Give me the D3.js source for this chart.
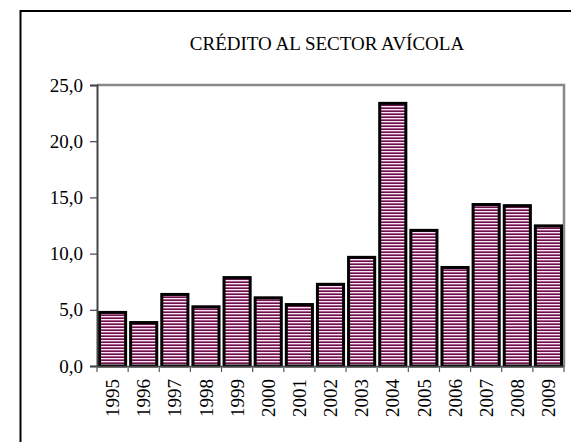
<!DOCTYPE html>
<html>
<head>
<meta charset="utf-8">
<script src="https://cdn.jsdelivr.net/npm/d3@7"></script>
<style>
  html, body { margin: 0; padding: 0; background: #fff; }
  svg { display: block; }
</style>
</head>
<body>
<svg id="chart" width="571" height="442"></svg>
<script>
const title = "CRÉDITO AL SECTOR AVÍCOLA";
const years = ["1995","1996","1997","1998","1999","2000","2001","2002","2003","2004","2005","2006","2007","2008","2009"];
const values = [4.9, 4.0, 6.5, 5.4, 8.0, 6.2, 5.6, 7.4, 9.8, 23.5, 12.2, 8.9, 14.5, 14.4, 12.6];
const yTicks = [0, 5, 10, 15, 20, 25];

const svg = d3.select("#chart");
const m = { left: 97, right: 564, top: 85, bottom: 366 };

// outer frame (extends beyond the visible window on right/bottom)
svg.append("rect")
  .attr("x", 20.5).attr("y", 11).attr("width", 700).attr("height", 600)
  .attr("fill", "#fff").attr("stroke", "#000").attr("stroke-width", 2);

// striped fill pattern
const defs = svg.append("defs");
const pat = defs.append("pattern")
  .attr("id", "stripes").attr("patternUnits", "userSpaceOnUse")
  .attr("width", 4).attr("height", 3);
pat.append("rect").attr("x", 0).attr("y", 0).attr("width", 4).attr("height", 1).attr("fill", "#6a1249");
pat.append("rect").attr("x", 0).attr("y", 1).attr("width", 4).attr("height", 1).attr("fill", "#f6e8f1");
pat.append("rect").attr("x", 0).attr("y", 2).attr("width", 4).attr("height", 1).attr("fill", "#a85a8c");

const x = d3.scaleBand().domain(years).range([m.left, m.right]).paddingInner(0).paddingOuter(0);
const y = d3.scaleLinear().domain([0, 25]).range([m.bottom, m.top]);

const serif = "'Liberation Serif', 'Times New Roman', serif";

// title
svg.append("text")
  .attr("x", 327).attr("y", 50)
  .attr("text-anchor", "middle")
  .attr("font-family", serif)
  .attr("font-size", 19)
  .attr("fill", "#000")
  .text(title);

// plot border top/right (gray)
svg.append("path")
  .attr("d", `M${m.left},${m.top}H${m.right}V${m.bottom}`)
  .attr("fill", "none").attr("stroke", "#888").attr("stroke-width", 2.5);

// bars
const sw = 3, gap = 2;
svg.append("g").selectAll("rect")
  .data(values)
  .join("rect")
  .attr("x", (d, i) => x(years[i]) + sw / 2 + (i === 0 ? 1 : gap / 2))
  .attr("width", () => x.bandwidth() - sw - gap)
  .attr("y", d => y(d) + sw / 2)
  .attr("height", d => y(0) - y(d) - sw / 2)
  .attr("fill", "url(#stripes)")
  .attr("stroke", "#000")
  .attr("stroke-width", sw);

// y axis
const yAxis = d3.axisLeft(y).tickValues(yTicks).tickSize(7).tickPadding(7)
  .tickFormat(d => d3.format(".1f")(d).replace(".", ","));
const gy = svg.append("g").attr("transform", `translate(${m.left},0)`).call(yAxis);
gy.select(".domain").attr("stroke", "#444").attr("stroke-width", 2);
gy.selectAll(".tick line").attr("stroke", "#444").attr("stroke-width", 1.2);
gy.selectAll(".tick text")
  .attr("font-family", serif)
  .attr("font-size", 19).attr("fill", "#000");

// x axis
const xAxis = d3.axisBottom(x).tickSize(0).tickPadding(0).tickSizeOuter(0);
const gx = svg.append("g").attr("transform", `translate(0,${m.bottom})`).call(xAxis);
gx.select(".domain").attr("stroke", "#444").attr("stroke-width", 1.5);
gx.selectAll(".tick text")
  .attr("font-family", serif)
  .attr("font-size", 19).attr("fill", "#000")
  .attr("text-anchor", "end")
  .attr("transform", "rotate(-90)")
  .attr("x", -13).attr("y", 0).attr("dy", "0.35em");
// ticks at band boundaries
const bounds = years.map(d => x(d)).concat([m.right]);
gx.append("g").selectAll("line")
  .data(bounds)
  .join("line")
  .attr("x1", d => d).attr("x2", d => d)
  .attr("y1", 0).attr("y2", 6)
  .attr("stroke", "#555").attr("stroke-width", 1.2);
</script>
</body>
</html>
